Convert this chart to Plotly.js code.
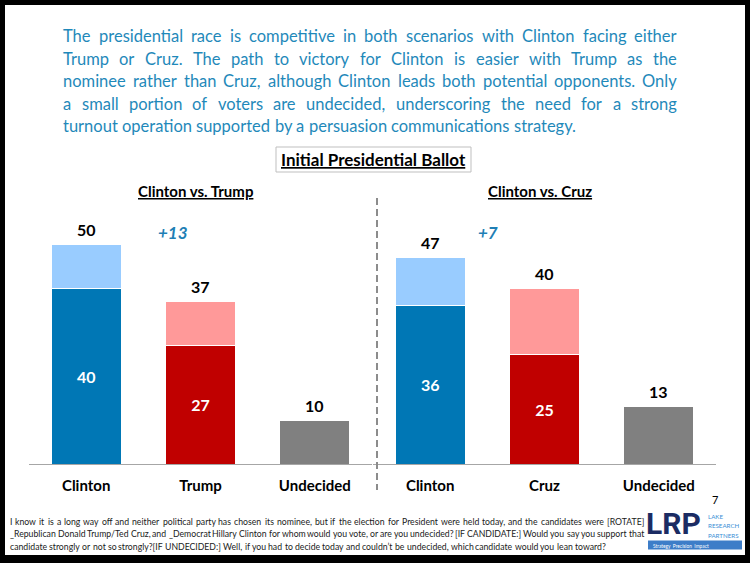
<!DOCTYPE html>
<html>
<head>
<meta charset="utf-8">
<script src="https://cdn.plot.ly/plotly-3.0.1.min.js"></script>
<style>html,body{margin:0;padding:0;background:#fff;}#chart{width:750px;height:563px;}</style>
</head>
<body>
<div id="chart"></div>
<script>
// ---- data ----
const catsTrump = ['Clinton', 'Trump', 'Undecided'];
const strongTrump = [40, 27, 10];
const totalTrump = [50, 37, 10];
const catsCruz = ['Clinton', 'Cruz', 'Undecided'];
const strongCruz = [36, 25, 13];
const totalCruz = [47, 40, 13];
const marginTrump = '+13';
const marginCruz = '+7';
const panelTitles = ['Clinton vs. Trump', 'Clinton vs. Cruz'];
const chartTitle = 'Initial Presidential Ballot';
const paragraph = [
  'The presidential race is competitive in both scenarios with Clinton facing either',
  'Trump or Cruz. The path to victory for Clinton is easier with Trump as the',
  'nominee rather than Cruz, although Clinton leads both potential opponents. Only',
  'a small portion of voters are undecided, underscoring the need for a strong',
  'turnout operation supported by a persuasion communications strategy.'
];
const footnote = [
  'I know it is a long way off and neither political party has chosen its nominee, but if the election for President were held today, and the candidates were [ROTATE]',
  '_Republican Donald Trump/Ted Cruz, and _Democrat Hillary Clinton for whom would you vote, or are you undecided? [IF CANDIDATE:]  Would you say you support that',
  'candidate strongly or not so strongly?[IF UNDECIDED:]  Well, if you had to decide today and couldn\u2019t be undecided, which candidate would you lean toward?'
];
const pageNumber = '7';

// ---- styling ----
const W = 750, H = 563;
const px = x => x / W;
const py = y => 1 - y / H;
const FONT = 'Lato, "Open Sans", sans-serif';
const strongColors = ['#0077B5', '#C00000', '#808080'];
const leanColors = ['#99CCFF', '#FF9999', '#808080'];
const teal = '#1F89BA';

const leanTrump = totalTrump.map((t, i) => t - strongTrump[i]);
const leanCruz = totalCruz.map((t, i) => t - strongCruz[i]);

function barTraces(cats, strong, lean, xa) {
  return [
    {
      type: 'bar', x: cats, y: strong, xaxis: xa, yaxis: 'y',
      marker: {color: strongColors, line: {color: '#FFFFFF', width: 1}},
      text: strong.map((v, i) => i < 2 ? String(v) : ''),
      textposition: 'inside', insidetextanchor: 'middle', textangle: 0,
      textfont: {family: FONT, size: 16, color: '#FFFFFF', weight: 'bold'},
      hoverinfo: 'skip', showlegend: false
    },
    {
      type: 'bar', x: cats, y: lean.map(v => v === 0 ? null : v), xaxis: xa, yaxis: 'y',
      marker: {color: leanColors, line: {color: '#FFFFFF', width: 1}},
      hoverinfo: 'skip', showlegend: false
    }
  ];
}

const data = [
  ...barTraces(catsTrump, strongTrump, leanTrump, 'x'),
  ...barTraces(catsCruz, strongCruz, leanCruz, 'x2')
];

const annotations = [];
function note(x, y, text, font, xanchor) {
  annotations.push({xref: 'paper', yref: 'paper', x: px(x), y: py(y), showarrow: false,
    xanchor: xanchor || 'center', yanchor: 'middle', text: text, font: font});
}
// totals above bars
function totals(cats, tot, xr) {
  cats.forEach((c, i) => annotations.push({
    xref: xr, yref: 'y', x: c, y: tot[i], yshift: 15, showarrow: false,
    xanchor: 'center', yanchor: 'middle',
    text: '<b>' + tot[i] + '</b>', font: {family: FONT, size: 16, color: '#000'}
  }));
}
totals(catsTrump, totalTrump, 'x');
totals(catsCruz, totalCruz, 'x2');

// margins
note(173, 233, '<b><i>' + marginTrump + '</i></b>', {family: FONT, size: 17, color: '#1F7FB5'});
note(488, 232, '<b><i>' + marginCruz + '</i></b>', {family: FONT, size: 17, color: '#1F7FB5'});

// panel titles
note(196, 191, '<b>' + panelTitles[0] + '</b>', {family: FONT, size: 15, color: '#000', lineposition: 'under'});
note(540, 191, '<b>' + panelTitles[1] + '</b>', {family: FONT, size: 15, color: '#000', lineposition: 'under'});

// main title
note(373, 159, '<b>' + chartTitle + '</b>', {family: FONT, size: 17, color: '#000', lineposition: 'under'});

// justified text helper (word-by-word placement, measured on a canvas)
const canvas = document.createElement('canvas');
const ctx = canvas.getContext('2d');
function justify(lines, size, color, left, right, ys, justifyLast) {
  ctx.font = size + 'px Lato';
  const space = ctx.measureText(' ').width;
  lines.forEach((line, li) => {
    const words = line.split(/ +/);
    const ws = words.map(w => ctx.measureText(w).width);
    const sum = ws.reduce((a, b) => a + b, 0);
    const doJ = justifyLast || li < lines.length - 1;
    const gap = doJ ? (right - left - sum) / (words.length - 1) : space;
    let x = left;
    words.forEach((w, i) => {
      note(x - 1, ys[li], w, {family: FONT, size: size, color: color}, 'left');
      x += ws[i] + gap;
    });
  });
}

// paragraph
justify(paragraph, 16.5, teal, 62, 676, [36, 58.5, 81, 103.5, 126], false);

// footnote (first two lines justified to the logo edge)
justify(footnote, 8.7, '#1a1a1a', 9, 643, [521, 533.5, 546], false);

// page number
note(715, 499, pageNumber, {family: FONT, size: 11, color: '#000'});

// logo
note(673, 523, '<b>LRP</b>', {family: 'Roboto, sans-serif', size: 30, color: '#1B2C63'});
['LAKE', 'RESEARCH', 'PARTNERS'].forEach((t, i) =>
  note(706, 516 + i * 9.7, t, {family: FONT, size: 6.2, color: '#3C8FD6'}, 'left'));
note(651, 545.5, 'Strategy  Precision  Impact', {family: FONT, size: 4.8, color: '#FFFFFF'}, 'left');

const shapes = [
  // black frame
  {type: 'rect', xref: 'paper', yref: 'paper', x0: 0, x1: 1, y0: py(0), y1: py(5), fillcolor: '#000', line: {width: 0}},
  {type: 'rect', xref: 'paper', yref: 'paper', x0: 0, x1: 1, y0: py(555), y1: py(563), fillcolor: '#000', line: {width: 0}},
  {type: 'rect', xref: 'paper', yref: 'paper', x0: 0, x1: px(5), y0: 0, y1: 1, fillcolor: '#000', line: {width: 0}},
  {type: 'rect', xref: 'paper', yref: 'paper', x0: px(745), x1: 1, y0: 0, y1: 1, fillcolor: '#000', line: {width: 0}},
  // title box
  {type: 'rect', xref: 'paper', yref: 'paper', x0: px(276), x1: px(471), y0: py(147), y1: py(172),
    line: {color: '#BFBFBF', width: 1}, fillcolor: 'rgba(0,0,0,0)'},
  // dashed separator
  {type: 'line', xref: 'paper', yref: 'paper', x0: px(377), x1: px(377), y0: py(198), y1: py(490),
    line: {color: '#8C8C8C', width: 2, dash: '7px,4px'}},
  // logo banner
  {type: 'rect', xref: 'paper', yref: 'paper', x0: px(648), x1: px(742), y0: py(540.5), y1: py(549.5),
    fillcolor: '#3D7DC8', line: {width: 0}}
];

const tickFont = {family: FONT, size: 15, color: '#000', weight: 'bold'};
const layout = {
  width: W, height: H,
  margin: {l: 0, r: 0, t: 0, b: 0},
  paper_bgcolor: '#FFFFFF', plot_bgcolor: 'rgba(0,0,0,0)',
  barmode: 'stack', bargap: 0.386,
  showlegend: false,
  xaxis: {domain: [px(29), px(372)], anchor: 'y', type: 'category', range: [-0.5, 2.5],
    showline: true, linecolor: '#A6A6A6', linewidth: 1, ticks: '', showgrid: false, zeroline: false,
    tickfont: tickFont, ticklabelstandoff: 8, fixedrange: true},
  xaxis2: {domain: [px(373), px(716)], anchor: 'y', type: 'category', range: [-0.5, 2.5],
    showline: true, linecolor: '#A6A6A6', linewidth: 1, ticks: '', showgrid: false, zeroline: false,
    tickfont: tickFont, ticklabelstandoff: 8, fixedrange: true},
  yaxis: {domain: [1 - 464 / H, 1 - 200 / H], range: [0, 60], visible: false, fixedrange: true},
  annotations: annotations,
  shapes: shapes,
  font: {family: FONT}
};

Plotly.newPlot('chart', data, layout, {staticPlot: true, displayModeBar: false});
</script>
</body>
</html>
